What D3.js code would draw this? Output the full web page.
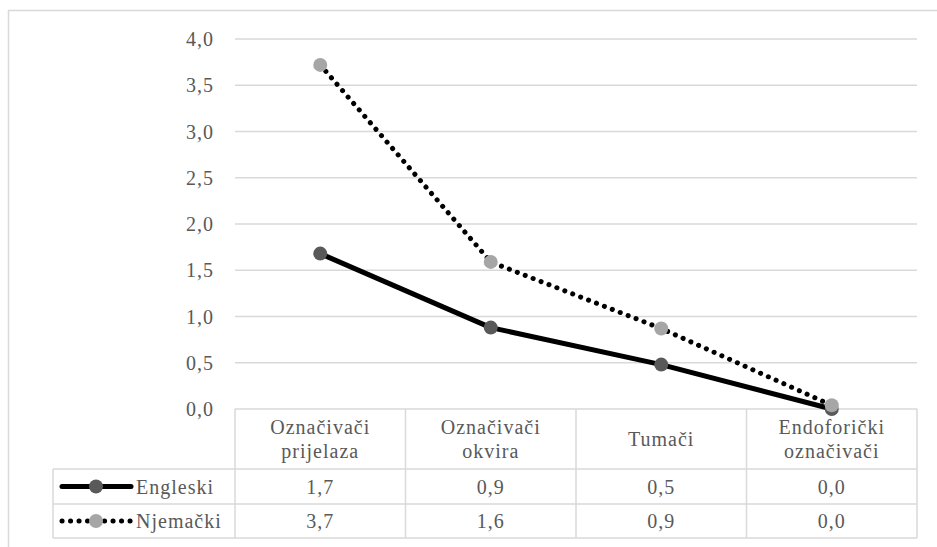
<!DOCTYPE html>
<html><head><meta charset="utf-8">
<script src="https://cdn.jsdelivr.net/npm/d3@7"></script>
<style>body{margin:0;background:#fff;}svg{display:block;}</style>
</head><body><svg id="c" width="937" height="547"></svg>
<script>
const categories = [["Označivači","prijelaza"],["Označivači","okvira"],["Tumači"],["Endoforički","označivači"]];
const seriesNames = ["Engleski","Njemački"];
const engleski = [1.68, 0.88, 0.48, 0.0];
const njemacki = [3.72, 1.59, 0.87, 0.04];
const yTicks = [0,0.5,1,1.5,2,2.5,3,3.5,4];

const svg = d3.select("#c");
const font = "Liberation Serif, Times New Roman, DejaVu Serif, serif";
const fsize = 20, lsp = 1;
const txt = "#595959";
const grid = "#d9d9d9";
const plotLeft = 235, plotRight = 917, plotTop = 39, plotZero = 409;
const x = d3.scaleBand().domain(d3.range(categories.length)).range([plotLeft,plotRight]);
const y = d3.scaleLinear().domain([0,4]).range([plotZero,plotTop]);
const fmt = v => d3.format(".1f")(v).replace(".",",");
const styleText = sel => sel.attr("font-family",font).attr("font-size",fsize)
  .attr("letter-spacing",lsp).attr("fill",txt);

// outer border
svg.append("rect").attr("x",8.5).attr("y",10.5).attr("width",940).attr("height",550)
  .attr("fill","none").attr("stroke",grid).attr("stroke-width",1.5);

// gridlines
svg.append("g").selectAll("line").data(yTicks.filter(d=>d>0)).join("line")
  .attr("x1",plotLeft).attr("x2",plotRight).attr("y1",d=>y(d)).attr("y2",d=>y(d))
  .attr("stroke",grid).attr("stroke-width",1.5);
// y labels
svg.append("g").selectAll("text").data(yTicks).join("text")
  .attr("x",214).attr("y",d=>y(d)).attr("dy","0.35em").attr("text-anchor","end")
  .call(styleText).text(fmt);

// data table
const rowY = [plotZero, 469, 504, 538];
const tbl = svg.append("g").attr("stroke",grid).attr("stroke-width",1.5);
tbl.append("line").attr("x1",plotLeft).attr("x2",plotRight).attr("y1",rowY[0]).attr("y2",rowY[0]);
[1,2,3].forEach(k=>tbl.append("line").attr("x1",53).attr("x2",plotRight).attr("y1",rowY[k]).attr("y2",rowY[k]));
tbl.append("line").attr("x1",53).attr("x2",53).attr("y1",rowY[1]).attr("y2",rowY[3]);
const cols = d3.range(categories.length+1).map(i=> i<categories.length ? x(i) : plotRight);
cols.forEach(cx=>tbl.append("line").attr("x1",cx).attr("x2",cx).attr("y1",rowY[0]).attr("y2",rowY[3]));

// header text
const hdr = svg.append("g").call(styleText).attr("text-anchor","middle");
categories.forEach((lines,i)=>{
  const cx = x(i)+x.bandwidth()/2;
  const cy = (rowY[0]+rowY[1])/2;
  const t = hdr.append("text").attr("x",cx);
  lines.forEach((l,j)=>{
    t.append("tspan").attr("x",cx).attr("y",cy + (j-(lines.length-1)/2)*24).attr("dy","0.35em").text(l);
  });
});

const series = [
  {name:seriesNames[0], values:engleski, stroke:"#000", dash:null, width:5, marker:"#595959"},
  {name:seriesNames[1], values:njemacki, stroke:"#000", dash:"0.1 8.4", width:5, marker:"#a6a6a6"}
];

// value rows + legend keys
series.forEach((s,si)=>{
  const cy = (rowY[si+1]+rowY[si+2])/2;
  svg.append("g").selectAll("text").data(s.values).join("text")
    .attr("x",(d,i)=>x(i)+x.bandwidth()/2).attr("y",cy).attr("dy","0.35em")
    .attr("text-anchor","middle").call(styleText).text(fmt);
  const g = svg.append("g");
  g.append("line").attr("x1",62).attr("x2",131).attr("y1",cy).attr("y2",cy)
    .attr("stroke",s.stroke).attr("stroke-width",s.width)
    .attr("stroke-dasharray",s.dash).attr("stroke-linecap","round");
  g.append("circle").attr("cx",96).attr("cy",cy).attr("r",7).attr("fill",s.marker);
  g.append("text").attr("x",136).attr("y",cy).attr("dy","0.35em")
    .call(styleText).text(s.name);
});

// lines
const line = d3.line().x((d,i)=>x(i)+x.bandwidth()/2).y(d=>y(d));
series.forEach(s=>{
  svg.append("path").attr("d",line(s.values)).attr("fill","none")
    .attr("stroke",s.stroke).attr("stroke-width",s.width)
    .attr("stroke-dasharray",s.dash).attr("stroke-linecap",s.dash?"round":"butt")
    .attr("stroke-linejoin","round");
});
series.forEach(s=>{
  svg.append("g").selectAll("circle").data(s.values).join("circle")
    .attr("cx",(d,i)=>x(i)+x.bandwidth()/2).attr("cy",d=>y(d)).attr("r",7).attr("fill",s.marker);
});
</script></body></html>
